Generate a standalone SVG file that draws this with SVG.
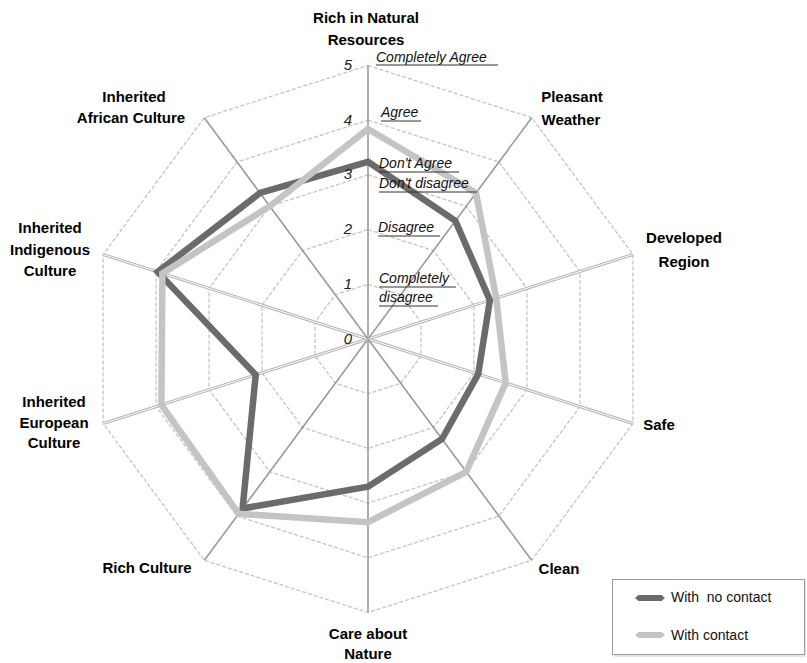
<svg xmlns="http://www.w3.org/2000/svg" width="807" height="663" viewBox="0 0 807 663">
<style>
.grid{fill:none;stroke:#c4c4c4;stroke-width:1.3;stroke-dasharray:4 2}
.ax{stroke:#9a9a9a;stroke-width:1.6;fill:none}
.axd{stroke:#b4b4b4;stroke-width:3;fill:none}
.axw{stroke:#ffffff;stroke-width:1;fill:none}
.lbl{font-family:"Liberation Sans",Arial,sans-serif;font-weight:bold;font-size:15px;fill:#000;text-anchor:middle}
.num{font-family:"Liberation Sans",Arial,sans-serif;font-style:italic;font-size:15px;fill:#222;text-anchor:end}
.ann{font-family:"Liberation Sans",Arial,sans-serif;font-style:italic;font-size:14px;fill:#111}
.ul{stroke:#333;stroke-width:1}
.leg{font-family:"Liberation Sans",Arial,sans-serif;font-size:14px;fill:#111;white-space:pre}
.dark{fill:none;stroke:#6b6b6b;stroke-width:6.5;stroke-linejoin:miter}
.light{fill:none;stroke:#c4c4c4;stroke-width:6.5;stroke-linejoin:miter}
</style>
<rect width="807" height="663" fill="#ffffff"/>
<g id="grid">
<polygon class="grid" points="368,284.3 400.7,294.7 421,322.1 421,355.9 400.7,383.3 368,393.7 335.3,383.3 315,355.9 315,322.1 335.3,294.7"/>
<polygon class="grid" points="368,229.6 433.5,250.5 474,305.2 474,372.8 433.5,427.5 368,448.4 302.5,427.5 262,372.8 262,305.2 302.5,250.5"/>
<polygon class="grid" points="368,174.9 466.2,206.2 526.9,288.3 526.9,389.7 466.2,471.8 368,503.1 269.8,471.8 209.1,389.7 209.1,288.3 269.8,206.2"/>
<polygon class="grid" points="368,120.2 499,162 579.9,271.4 579.9,406.6 499,516 368,557.8 237,516 156.1,406.6 156.1,271.4 237,162"/>
<polygon class="grid" points="368,65.5 531.7,117.7 632.9,254.5 632.9,423.5 531.7,560.3 368,612.5 204.3,560.3 103.1,423.5 103.1,254.5 204.3,117.7"/>
</g>
<g id="axes">
<line class="ax" x1="368" y1="339" x2="368" y2="65.5"/>
<line class="ax" x1="368" y1="339" x2="531.7" y2="117.7"/>
<line class="axd" x1="368" y1="339" x2="632.9" y2="254.5"/>
<line class="axw" x1="368" y1="339" x2="632.9" y2="254.5"/>
<line class="axd" x1="368" y1="339" x2="632.9" y2="423.5"/>
<line class="axw" x1="368" y1="339" x2="632.9" y2="423.5"/>
<line class="ax" x1="368" y1="339" x2="531.7" y2="560.3"/>
<line class="ax" x1="368" y1="339" x2="368" y2="612.5"/>
<line class="ax" x1="368" y1="339" x2="204.3" y2="560.3"/>
<line class="axd" x1="368" y1="339" x2="103.1" y2="423.5"/>
<line class="axw" x1="368" y1="339" x2="103.1" y2="423.5"/>
<line class="axd" x1="368" y1="339" x2="103.1" y2="254.5"/>
<line class="axw" x1="368" y1="339" x2="103.1" y2="254.5"/>
<line class="ax" x1="368" y1="339" x2="204.3" y2="117.7"/>
</g>
<g id="series">
<polygon id="no-contact" class="dark" points="368,161.8 455.4,220.9 489.9,300.1 478.2,374.2 442,439 368,486.7 242.6,508.5 255.7,374.8 157.7,271.9 260,193"/>
<polygon id="contact" class="light" points="368,129 476,193 496.2,298.1 505.7,382.9 466.2,471.8 368,522.2 238.7,513.8 161.4,404.9 162.4,273.4 269.8,206.2"/>
</g>
<g id="scale">
<text class="num" x="352" y="70">5</text>
<text class="num" x="352" y="125">4</text>
<text class="num" x="352" y="179">3</text>
<text class="num" x="352" y="234">2</text>
<text class="num" x="352" y="289">1</text>
<text class="num" x="352" y="344">0</text>
</g>
<g id="annotations">
<text class="ann" x="376" y="62">Completely Agree</text>
<line class="ul" x1="376" y1="65" x2="498" y2="65"/>
<text class="ann" x="381" y="117">Agree</text>
<line class="ul" x1="381" y1="121" x2="421" y2="121"/>
<text class="ann" x="379" y="168">Don't Agree</text>
<line class="ul" x1="379" y1="172" x2="459" y2="172"/>
<text class="ann" x="379" y="188">Don't disagree</text>
<line class="ul" x1="379" y1="192" x2="477" y2="192"/>
<text class="ann" x="378" y="232">Disagree</text>
<line class="ul" x1="378" y1="236" x2="440" y2="236"/>
<text class="ann" x="379" y="283">Completely</text>
<line class="ul" x1="379" y1="287" x2="456" y2="287"/>
<text class="ann" x="379" y="302">disagree</text>
<line class="ul" x1="379" y1="306" x2="438" y2="306"/>
</g>
<g id="label-rich-natural"><text class="lbl" x="366" y="23">Rich in Natural</text><text class="lbl" x="366" y="45">Resources</text></g>
<g id="label-pleasant"><text class="lbl" x="572" y="102">Pleasant</text><text class="lbl" x="571" y="125">Weather</text></g>
<g id="label-developed"><text class="lbl" x="684" y="243">Developed</text><text class="lbl" x="684" y="267">Region</text></g>
<g id="label-safe"><text class="lbl" x="659" y="430">Safe</text></g>
<g id="label-clean"><text class="lbl" x="559" y="574">Clean</text></g>
<g id="label-care"><text class="lbl" x="368" y="639">Care about</text><text class="lbl" x="368" y="659">Nature</text></g>
<g id="label-rich-culture"><text class="lbl" x="147" y="573">Rich Culture</text></g>
<g id="label-european"><text class="lbl" x="54" y="407">Inherited</text><text class="lbl" x="54" y="428">European</text><text class="lbl" x="54" y="448">Culture</text></g>
<g id="label-indigenous"><text class="lbl" x="50" y="233">Inherited</text><text class="lbl" x="50" y="255">Indigenous</text><text class="lbl" x="50" y="276">Culture</text></g>
<g id="label-african"><text class="lbl" x="134" y="102">Inherited</text><text class="lbl" x="131" y="123">African Culture</text></g>
<g id="legend">
<rect x="614" y="581" width="192" height="76" fill="#e6e6e6"/>
<rect x="612.5" y="579.5" width="192" height="75" fill="#ffffff" stroke="#9a9a9a" stroke-width="1"/>
<polygon points="635,598 638.5,595 661.5,595 665,598 661.5,601 638.5,601" fill="#6b6b6b"/>
<text class="leg" x="671" y="602">With  no contact</text>
<polygon points="635,635 638.5,632 661.5,632 665,635 661.5,638 638.5,638" fill="#c4c4c4"/>
<text class="leg" x="671" y="640">With contact</text>
</g>
</svg>
